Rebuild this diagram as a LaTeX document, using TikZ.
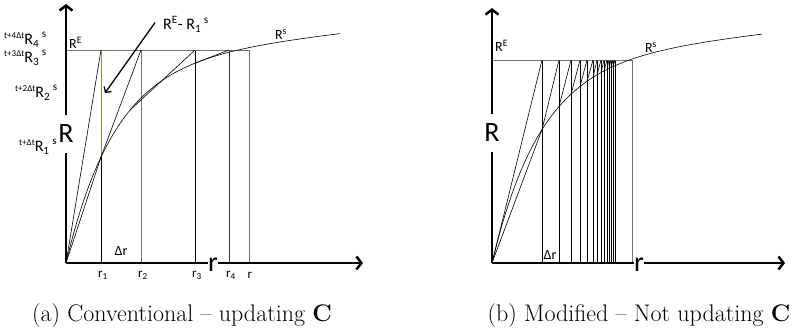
\documentclass[tikz,border=0pt]{standalone}
\usepackage{fontspec}
\newfontfamily\calib{Carlito}
\usetikzlibrary{arrows.meta}
\definecolor{difgreen}{RGB}{112,160,60}
% pre-scripted label t+..R_i^s
\newcommand{\prelab}[2]{{\fontsize{9}{9}\selectfont\raisebox{6pt}{#1}}R\textsubscript{#2}\,\raisebox{1pt}{\textsuperscript{s}}}

\begin{document}
\begin{tikzpicture}[x=1pt, y=1pt,
  declare function={Rs(\u)=200*(1-exp(-\u/49))+0.11*\u;},
  axis/.style     = {line width=2.5pt, -{Straight Barb[length=5pt,width=13pt]}},
  plotline/.style = {line width=0.6pt},
  gridline/.style = {line width=0.6pt, black!55},
  biglabel/.style = {font=\calib\fontsize{28}{30}\selectfont, fill=white, inner sep=0.5pt},
  lab/.style      = {font=\calib\fontsize{14}{16}\selectfont, inner sep=1pt},
  tick/.style     = {font=\calib\fontsize{13}{14}\selectfont, inner sep=1pt},
  prelabel/.style = {font=\calib\fontsize{16}{18}\selectfont, inner sep=0pt, anchor=base west},
  caption/.style  = {font=\fontsize{24}{28}\selectfont}
]
  \useasboundingbox (0,0) rectangle (808,332);

  % (a) conventional
  \begin{scope}[shift={(66,69)}]
    \coordinate (Oa) at (0,0);
    \coordinate (Ya) at (0,259);
    \coordinate (Xa) at (297,0);
    \draw[plotline] (35,0) -- (35,{Rs(35)});
    \draw[line width=0.8pt, difgreen] (35,{Rs(35)}) -- (35,213);
    \draw[gridline] (75,0) -- (75,213);
    \draw[plotline] (129,0) -- (129,213);
    \draw[plotline, black!80] (163,0) -- (163,213);
    \draw[gridline] (183,0) -- (183,213);
    \draw[gridline] (0,213) -- (183,213);
    \draw[plotline] plot[domain=0:274, samples=100] (\x,{Rs(\x)});
    \draw[plotline] (Oa) -- (35,213);
    \draw[plotline] (Oa) -- (35,{Rs(35)}) -- (75,213);
    \draw[plotline] (64,{Rs(64)}) -- (129,213);
    \draw[plotline] (129,{Rs(129)}) -- (163,213);
    \draw[axis] (Oa) -- (Ya);
    \draw[axis] (Oa) -- (Xa);
    \node[biglabel, minimum height=38pt] (Ra) at (0,129) {R};
    \node[biglabel] (ra) at (147,-2) {r};

    \node[lab, anchor=south west] (REa) at (2,213) {R\textsuperscript{E}};
    \node[lab] (Rsa) at (215,228) {R\textsuperscript{s}};
    \node[lab] (dra) at (55,12) {Δr};
    \node[tick] (r1) at (37,-12) {r\textsubscript{1}};
    \node[tick] (r2) at (77,-12) {r\textsubscript{2}};
    \node[tick] (r3) at (131,-12) {r\textsubscript{3}};
    \node[tick] (r4) at (165,-12) {r\textsubscript{4}};
    \node[tick] (r5) at (184,-12) {r};

    \node[prelabel] (t4) at (-62,218) {\prelab{t+4Δt}{4}};
    \node[prelabel] (t3) at (-62,200) {\prelab{t+3Δt}{3}};
    \node[prelabel] (t2) at (-51,165) {\prelab{t+2Δt}{2}};
    \node[prelabel] (t1) at (-47,111) {\prelab{t+Δt}{1}};

    \node[prelabel] (diff) at (97,233) {R\textsuperscript{E}- R\textsubscript{1}\,\textsuperscript{s}};
    \coordinate (tipa) at (39,170);
    \draw[line width=1.3pt, -{Straight Barb[length=4pt,width=9pt]}] ([xshift=-8pt,yshift=2pt]diff.west) -- (tipa);
  \end{scope}

  % (b) modified
  \begin{scope}[shift={(492,69)}]
    \coordinate (Ob) at (0,0);
    \coordinate (Yb) at (0,255);
    \coordinate (Xb) at (293,0);
    \foreach \u in {50,67,79,88,95,101,105,109,112,115,117,119,121,123}
      \draw[plotline] (\u,0) -- (\u,203);
    \draw[gridline] (140,0) -- (140,203);
    \draw[gridline] (0,203) -- (140,203);
    \draw[plotline] plot[domain=0:270, samples=100] (\x,{Rs(\x)});
    \draw[plotline] (Ob) -- (50,203);
    \draw[plotline] (Ob) -- (50,{Rs(50)}) -- (67,203);
    \foreach \a/\b in {67/79,79/88,88/95,95/101,101/105,105/109,109/112,112/115,115/117,117/119,119/121,121/123}
      \draw[plotline] (\a,{Rs(\a)}) -- (\b,203);
    \draw[axis] (Ob) -- (Yb);
    \draw[axis] (Ob) -- (Xb);
    \node[biglabel, minimum height=38pt] (Rb) at (0,130) {R};
    \node[biglabel] (rb) at (147,-2) {r};

    \node[lab, anchor=south west] (REb) at (2,210) {R\textsuperscript{E}};
    \node[lab] (Rsb) at (159,215) {R\textsuperscript{s}};
    \node[lab] (drb) at (58,8) {Δr};
  \end{scope}

  \node[caption] (capa) at (182,16) {(a) Conventional -- updating \textbf{C}};
  \node[caption] (capb) at (639,16) {(b) Modified -- Not updating \textbf{C}};
\end{tikzpicture}
\end{document}
